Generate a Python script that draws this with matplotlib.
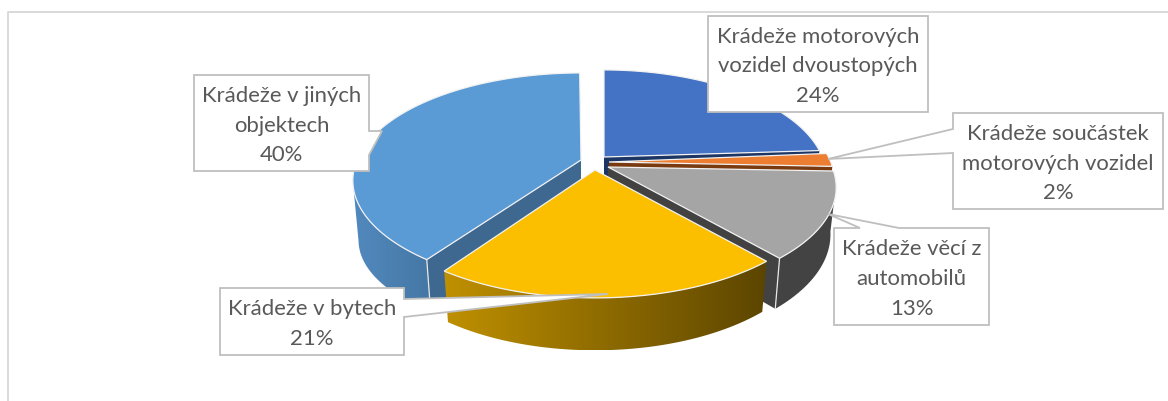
import numpy as np
import matplotlib
matplotlib.use("Agg")
import matplotlib.pyplot as plt
from matplotlib.patches import Polygon
from matplotlib.colors import LinearSegmentedColormap

categories = ["Krádeže motorových\nvozidel dvoustopých",
              "Krádeže součástek\nmotorových vozidel",
              "Krádeže věcí z\nautomobilů",
              "Krádeže v bytech",
              "Krádeže v jiných\nobjektech"]
values = [24, 2, 13, 21, 40]

top_colors = ["#4472C4", "#ED7D31", "#A5A5A5", "#FBBF00", "#5B9BD5"]
cut_colors = ["#1C3563", "#7A3A10", "#424242", "#7A5C00", "#3E688F"]
apexes = [(604, 157), (609, 162), (608, 167), (595, 170), (581, 160)]
# wall height, vertical scale of the lower rim, rotation and width per slice
depths = [55, 55, 46, 46, 62]
yscales = [0.975, 0.975, 1.05, 1.05, 0.9]
rotations = [0.0, -1.2, -1.4, -1.4, -0.4]
xscales = [0.975, 0.99, 1.0, 1.0, 1.0]
boxes = [(708, 16, 928, 112), (953, 113, 1163, 209), (834, 228, 989, 325),
         (220, 288, 404, 355), (194, 75, 369, 171)]
pointers = [None,
            ((953, 129), (828, 159), (953, 153)),
            ((899, 228), (828, 214), (860, 228)),
            ((404, 299), (608, 294), (404, 317)),
            ((369, 131), (382, 131), (369, 155))]
box_sides = [None, "left", "top", "right", "right"]

A, B, K = 224.0, 103.6, 0.19
SHRINK = 0.975
TEXT = "#595959"
EDGE = "#BFBFBF"

plt.rcParams["font.family"] = ["Lato", "DejaVu Sans"]
fig = plt.figure(figsize=(11.68, 4.01), dpi=100)
ax = fig.add_axes([0, 0, 1, 1])
ax.set_xlim(0, 1168)
ax.set_ylim(401, 0)
ax.axis("off")

ax.plot([8, 8, 1168], [401, 12, 12], color="#D9D9D9", lw=1.4, zorder=1)


def rim(i, deg, bottom=False):
    apex = apexes[i]
    t = np.radians(np.asarray(deg, dtype=float) + rotations[i])
    u, v = np.sin(t), -np.cos(t)
    w = 1 - K * v
    x, y = A * xscales[i] * u / w, B * v / w
    if bottom:
        return np.column_stack([apex[0] + SHRINK * x, apex[1] + depths[i] + yscales[i] * y])
    return np.column_stack([apex[0] + x, apex[1] + y])


def gradient_fill(pts, c0, c1, z):
    cmap = LinearSegmentedColormap.from_list("g", [c0, c1])
    poly = Polygon(pts, closed=True, fc="none", ec="none", zorder=z)
    ax.add_patch(poly)
    x0, x1 = pts[:, 0].min(), pts[:, 0].max()
    y0, y1 = pts[:, 1].min(), pts[:, 1].max()
    im = ax.imshow(np.linspace(0, 1, 256)[None, :], cmap=cmap, extent=(x0, x1, y1, y0),
                   aspect="auto", zorder=z, interpolation="bilinear")
    im.set_clip_path(poly)


edges = np.concatenate([[0], np.cumsum(values)]) * 3.6
order = [0, 1, 2, 4, 3]
rim_styles = {2: ("#434343", "#434343"), 3: ("#BF9000", "#5C4500"), 4: ("#5289BE", "#4477A4")}
# the rim is visible only up to the silhouette of the ellipse
rim_spans = {2: (101, None), 3: (None, None), 4: (None, 259)}

z = 2
for i in order:
    a0, a1 = edges[i], edges[i + 1]
    ap = apexes[i]
    degs = np.linspace(a0, a1, 120)
    cut_angle = a1 if i in (0, 1, 2) else a0 if i == 4 else None
    if cut_angle is not None:
        p_top = rim(i, [cut_angle])[0]
        p_bot = rim(i, [cut_angle], True)[0]
        ax.add_patch(Polygon([ap, p_top, p_bot, (ap[0], ap[1] + depths[i])], closed=True,
                             fc=cut_colors[i], ec="none", zorder=z))
        z += 1
    if i in rim_styles:
        s0, s1 = rim_spans[i]
        d = np.linspace(a0 if s0 is None else s0, a1 if s1 is None else s1, 120)
        pts = np.vstack([rim(i, d), rim(i, d, True)[::-1]])
        gradient_fill(pts, *rim_styles[i], z)
        z += 1
    if cut_angle is not None and i in rim_styles:
        p_top = rim(i, [cut_angle])[0]
        p_bot = rim(i, [cut_angle], True)[0]
        ax.plot([p_top[0], p_bot[0]], [p_top[1], p_bot[1]], color="#E8E8E8", lw=0.9, zorder=z)
        z += 1
    top = np.vstack([[ap], rim(i, degs)])
    ax.add_patch(Polygon(top, closed=True, fc=top_colors[i], ec="#F2F2F2", lw=0.9,
                         joinstyle="miter", zorder=z))
    z += 1

for name, val, box, ptr, side in zip(categories, values, boxes, pointers, box_sides):
    x0, y0, x1, y1 = box
    if ptr is None:
        outline = [(x0, y0), (x1, y0), (x1, y1), (x0, y1)]
    elif side == "right":
        outline = [(x0, y0), (x1, y0), *ptr, (x1, y1), (x0, y1)]
    elif side == "left":
        outline = [(x0, y0), (x1, y0), (x1, y1), (x0, y1), *ptr[::-1]]
    else:
        outline = [(x0, y0), ptr[2], ptr[1], ptr[0], (x1, y0), (x1, y1), (x0, y1)]
    ax.add_patch(Polygon(outline, closed=True, fc="white", ec=EDGE, lw=1.3,
                         joinstyle="miter", zorder=50))
    ax.text((x0 + x1) / 2, (y0 + y1) / 2 + 2.5, f"{name}\n{val}%", ha="center", va="center",
            ma="center", color=TEXT, fontsize=15.9, linespacing=1.6, zorder=51)

ax.set_xlim(0, 1168)
ax.set_ylim(401, 0)
fig.savefig("out.png", dpi=100, facecolor="white")
